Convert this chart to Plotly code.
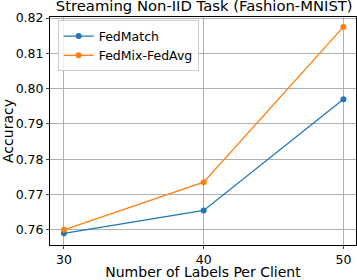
import plotly.graph_objects as go

labels_per_client = [30, 40, 50]
fedmatch = [0.759, 0.7655, 0.797]
fedmix = [0.760, 0.7735, 0.8175]
y_ticks = [0.76, 0.77, 0.78, 0.79, 0.80, 0.81, 0.82]

fig = go.Figure()
fig.add_trace(go.Scatter(x=labels_per_client, y=fedmatch, mode="lines+markers", name="FedMatch",
                         line=dict(color="#1f77b4", width=1.3), marker=dict(size=6, color="#1f77b4")))
fig.add_trace(go.Scatter(x=labels_per_client, y=fedmix, mode="lines+markers", name="FedMix-FedAvg",
                         line=dict(color="#ff7f0e", width=1.3), marker=dict(size=6, color="#ff7f0e")))

fig.update_layout(
    width=357, height=280,
    margin=dict(l=50, r=1, t=17, b=35),
    paper_bgcolor="white", plot_bgcolor="white",
    font=dict(family="DejaVu Sans", color="black", size=12.5),
    title=dict(text="Streaming Non-IID Task (Fashion-MNIST)", x=0.572, xanchor="center",
               yref="container", y=1, yanchor="top", pad=dict(t=1),
               font=dict(size=14.8)),
    xaxis=dict(range=[29.0, 50.9], tickvals=labels_per_client, ticktext=[str(v) for v in labels_per_client],
               showgrid=True, gridcolor="#b0b0b0", gridwidth=0.8, showline=True, linecolor="black", linewidth=1,
               mirror=True, ticks="outside", ticklen=3, zeroline=False, automargin=False,
               title=dict(text="Number of Labels Per Client", font=dict(size=14), standoff=2)),
    yaxis=dict(range=[0.7557, 0.8203], tickvals=y_ticks, ticktext=[f"{v:.2f}" for v in y_ticks],
               showgrid=True, gridcolor="#b0b0b0", gridwidth=0.8, showline=True, linecolor="black", linewidth=1,
               mirror=True, ticks="outside", ticklen=3, zeroline=False, automargin=False,
               title=dict(text="Accuracy", font=dict(size=14), standoff=4)),
    legend=dict(x=0.025, y=0.985, xanchor="left", yanchor="top", bgcolor="rgba(255,255,255,0.8)",
                bordercolor="#cccccc", borderwidth=1, font=dict(size=12.5), tracegroupgap=0),
)

fig.write_html("out.html", config={"displayModeBar": False},
               post_script="document.body.style.margin='0';document.body.style.padding='0';")
